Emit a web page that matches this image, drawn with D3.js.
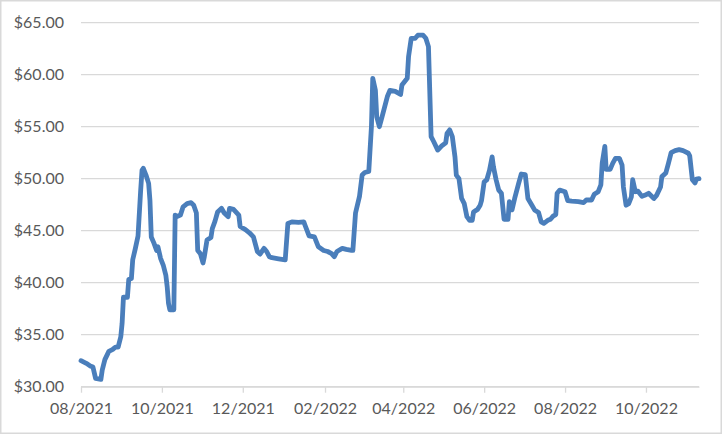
<!DOCTYPE html>
<html>
<head>
<meta charset="utf-8">
<script src="https://cdn.jsdelivr.net/npm/d3@7/dist/d3.min.js"></script>
<style>
  html, body { margin: 0; padding: 0; background: #fff; }
  svg { display: block; }
  text { font-family: Lato, "Liberation Sans", Arial, sans-serif; }
</style>
</head>
<body>
<svg id="chart" width="722" height="434"></svg>
<script>
// ---- data ----
const dates = [
  "2021-08-01","2021-08-05","2021-08-08","2021-08-10","2021-08-12","2021-08-16","2021-08-17","2021-08-19",
  "2021-08-22","2021-08-25","2021-08-27","2021-08-29","2021-08-31","2021-09-01","2021-09-02","2021-09-05",
  "2021-09-06","2021-09-08","2021-09-09","2021-09-11","2021-09-13","2021-09-15","2021-09-16","2021-09-17",
  "2021-09-19","2021-09-21","2021-09-22","2021-09-23","2021-09-25","2021-09-27","2021-09-28","2021-09-30",
  "2021-10-02","2021-10-04","2021-10-05","2021-10-06","2021-10-07","2021-10-10","2021-10-11","2021-10-12",
  "2021-10-15","2021-10-17","2021-10-20","2021-10-23","2021-10-25","2021-10-27","2021-10-28","2021-10-30",
  "2021-11-01","2021-11-02","2021-11-04","2021-11-07","2021-11-08","2021-11-10","2021-11-12","2021-11-15",
  "2021-11-17","2021-11-20","2021-11-21","2021-11-24","2021-11-28","2021-11-29","2021-12-03","2021-12-06",
  "2021-12-09","2021-12-12","2021-12-14","2021-12-17","2021-12-19","2021-12-21","2021-12-23","2021-12-28",
  "2022-01-02","2022-01-04","2022-01-07","2022-01-12","2022-01-16","2022-01-17","2022-01-20","2022-01-24",
  "2022-01-27","2022-01-31","2022-02-03","2022-02-06","2022-02-08","2022-02-10","2022-02-14","2022-02-17",
  "2022-02-21","2022-02-22","2022-02-24","2022-02-27","2022-03-01","2022-03-03","2022-03-06","2022-03-08",
  "2022-03-09","2022-03-11","2022-03-12","2022-03-14","2022-03-16","2022-03-20","2022-03-22","2022-03-26",
  "2022-03-30","2022-03-31","2022-04-04","2022-04-05","2022-04-07","2022-04-10","2022-04-12","2022-04-16",
  "2022-04-18","2022-04-20","2022-04-22","2022-04-24","2022-04-27","2022-04-30","2022-05-03","2022-05-04",
  "2022-05-06","2022-05-08","2022-05-10","2022-05-11","2022-05-13","2022-05-15","2022-05-17","2022-05-19",
  "2022-05-21","2022-05-23","2022-05-24","2022-05-27","2022-05-29","2022-05-30","2022-06-01","2022-06-03",
  "2022-06-05","2022-06-07","2022-06-08","2022-06-10","2022-06-12","2022-06-14","2022-06-16","2022-06-19",
  "2022-06-20","2022-06-22","2022-06-24","2022-06-27","2022-06-29","2022-07-02","2022-07-04","2022-07-07",
  "2022-07-09","2022-07-12","2022-07-14","2022-07-16","2022-07-19","2022-07-21","2022-07-23","2022-07-25",
  "2022-07-26","2022-07-28","2022-08-01","2022-08-03","2022-08-06","2022-08-11","2022-08-15","2022-08-17",
  "2022-08-21","2022-08-23","2022-08-26","2022-08-28","2022-08-29","2022-08-31","2022-09-01","2022-09-04",
  "2022-09-06","2022-09-08","2022-09-11","2022-09-13","2022-09-14","2022-09-16","2022-09-18","2022-09-20",
  "2022-09-21","2022-09-23","2022-09-25","2022-09-28","2022-09-30","2022-10-03","2022-10-07","2022-10-09",
  "2022-10-12","2022-10-13","2022-10-16","2022-10-18","2022-10-20","2022-10-23","2022-10-26","2022-10-29",
  "2022-11-02","2022-11-03","2022-11-05","2022-11-07","2022-11-08","2022-11-10"
];
const prices = [
  32.5,32.25,32.0,31.9,30.8,30.7,31.6,32.6,
  33.4,33.6,33.8,33.8,34.8,36.1,38.6,38.6,
  40.3,40.4,42.2,43.3,44.5,48.9,50.8,51.0,
  50.35,49.55,47.9,44.4,43.8,43.1,43.45,42.35,
  41.7,40.7,39.6,38.0,37.4,37.4,46.5,46.35,
  46.5,47.3,47.6,47.7,47.45,46.7,43.1,42.8,
  41.9,42.5,44.1,44.35,45.2,45.9,46.8,47.15,
  46.7,46.35,47.15,47.05,46.5,45.4,45.1,44.8,
  44.4,43.0,42.75,43.3,43.0,42.5,42.4,42.3,
  42.2,45.7,45.85,45.8,45.85,45.5,44.5,44.4,
  43.45,43.1,43.0,42.8,42.5,43.0,43.3,43.2,
  43.1,43.1,46.7,48.3,50.35,50.6,50.7,55.0,
  59.65,58.5,55.95,55.0,55.95,57.9,58.5,58.4,
  58.1,59.0,59.65,61.75,63.5,63.5,63.8,63.8,
  63.5,62.7,54.05,53.55,52.75,53.15,53.45,54.35,
  54.7,54.05,52.1,50.35,50.0,48.1,47.6,46.35,
  46.0,46.0,46.8,47.05,47.45,47.9,49.7,49.9,
  50.8,52.1,51.15,49.9,48.9,48.6,46.1,46.1,
  47.8,47.0,48.1,49.55,50.45,50.4,48.1,47.45,
  47.0,46.75,45.85,45.7,46.0,46.1,46.4,46.55,
  48.6,48.9,48.75,47.9,47.85,47.8,47.7,47.95,
  47.95,48.5,48.75,49.4,51.5,53.1,50.9,50.9,
  51.5,51.95,51.95,51.3,49.2,47.45,47.6,48.25,
  49.9,48.75,48.8,48.3,48.4,48.6,48.1,48.4,
  49.2,50.2,50.55,51.5,52.5,52.7,52.8,52.7,
  52.45,52.2,49.9,49.6,49.95,50.0
];
const yTicks = [30, 35, 40, 45, 50, 55, 60, 65];
const xTickLabels = ["08/2021","10/2021","12/2021","02/2022","04/2022","06/2022","08/2022","10/2022"];

// ---- chart ----
const W = 722, H = 434;
const svg = d3.select("#chart");
const parse = d3.timeParse("%Y-%m-%d");
const data = dates.map((d, i) => ({ date: parse(d), value: prices[i] }));

const plotLeft = 81, plotRight = 699, plotTop = 22.7, plotBottom = 386.7;

const x = d3.scaleTime()
  .domain([parse("2021-08-01"), parse("2022-11-10")])
  .range([plotLeft, plotRight]);
const y = d3.scaleLinear().domain([30, 65]).range([plotBottom, plotTop]);

// outer border
svg.append("rect")
  .attr("x", 0.75).attr("y", 0.75)
  .attr("width", W - 1.5).attr("height", H - 1.5)
  .attr("fill", "#fff").attr("stroke", "#d9d9d9").attr("stroke-width", 1.5);

// gridlines
svg.append("g").selectAll("line").data(yTicks).join("line")
  .attr("x1", plotLeft).attr("x2", plotRight)
  .attr("y1", d => y(d)).attr("y2", d => y(d))
  .attr("stroke", "#d9d9d9").attr("stroke-width", 1.3);

// y axis labels
const yAxis = d3.axisLeft(y).tickValues(yTicks)
  .tickFormat(d => "$" + d3.format(".2f")(d)).tickSize(0).tickPadding(17);
const gy = svg.append("g").attr("transform", `translate(${plotLeft},0)`).call(yAxis);
gy.select(".domain").remove();
gy.selectAll("text").attr("fill", "#595959").style("font-size", "16px")
  .style("font-family", "Lato, 'Liberation Sans', Arial, sans-serif");

// x axis
const xTickDates = xTickLabels.map(s => d3.timeParse("%m/%Y")(s));
const xAxis = d3.axisBottom(x).tickValues(xTickDates)
  .tickFormat((d, i) => xTickLabels[i]).tickSize(6).tickSizeOuter(0).tickPadding(10);
const gx = svg.append("g").attr("transform", `translate(0,${plotBottom})`).call(xAxis);
gx.select(".domain").attr("stroke", "#d9d9d9").attr("stroke-width", 1.3);
gx.selectAll(".tick line").attr("stroke", "#d9d9d9").attr("stroke-width", 1.3);
gx.selectAll("text").attr("fill", "#595959").style("font-size", "16px")
  .style("font-family", "Lato, 'Liberation Sans', Arial, sans-serif");

// line
const line = d3.line().x(d => x(d.date)).y(d => y(d.value)).curve(d3.curveLinear);
svg.append("path").datum(data)
  .attr("d", line)
  .attr("fill", "none")
  .attr("stroke", "#4a7ebb")
  .attr("stroke-width", 4.8)
  .attr("stroke-linejoin", "round")
  .attr("stroke-linecap", "round");
</script>
</body>
</html>
